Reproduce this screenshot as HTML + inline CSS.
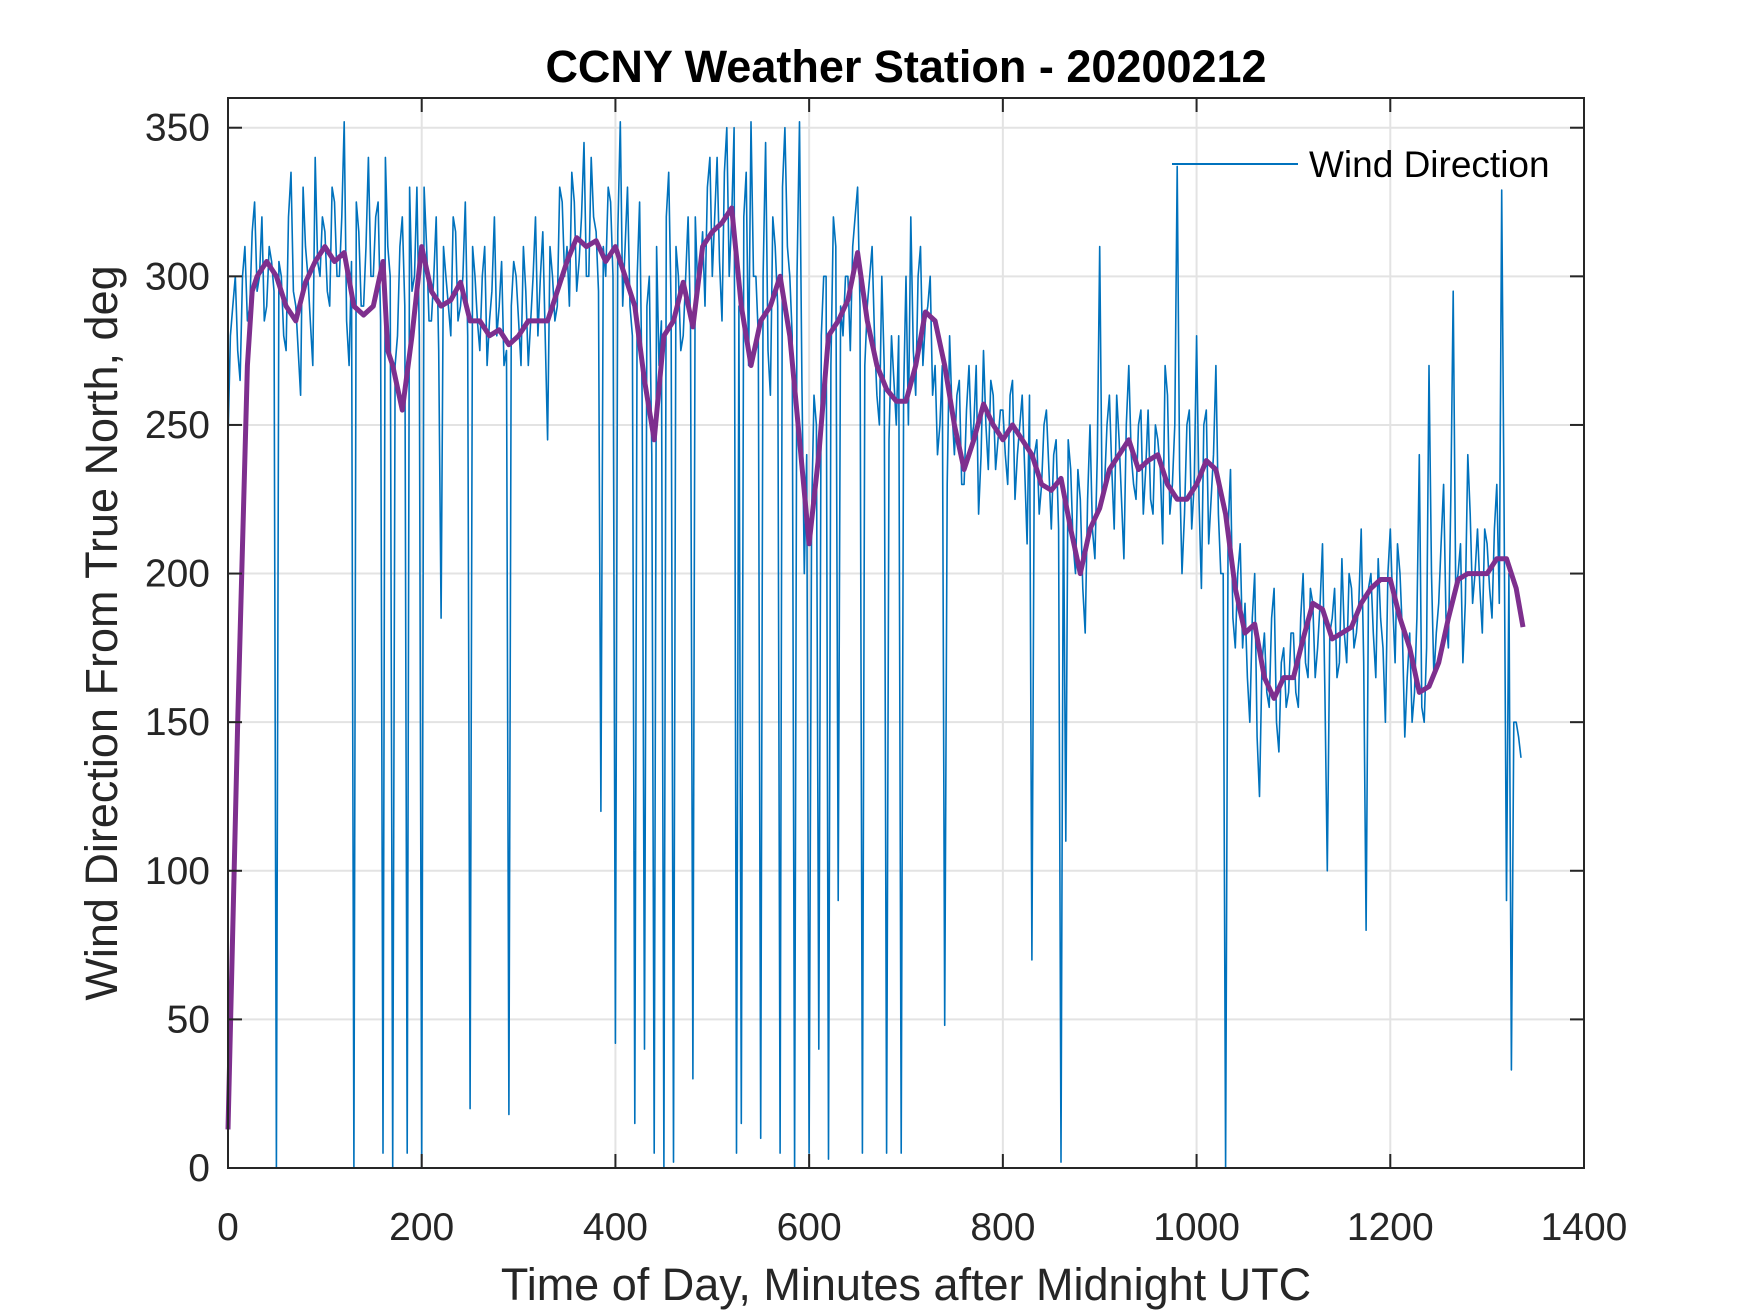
<!DOCTYPE html>
<html><head><meta charset="utf-8"><style>
html,body{margin:0;padding:0;background:#fff;}
svg{display:block;font-family:"Liberation Sans",Arial,sans-serif;}
</style></head><body>
<svg id="chart" width="1750" height="1313" viewBox="0 0 1750 1313">
<rect width="1750" height="1313" fill="#fff"/>
<g id="grid"></g>
<g id="series"></g>
<g id="axes"></g>
<text x="906" y="82" text-anchor="middle" font-size="45" font-weight="bold" fill="#000">CCNY Weather Station - 20200212</text>
<text x="906" y="1300" text-anchor="middle" font-size="45" fill="#262626">Time of Day, Minutes after Midnight UTC</text>
<text transform="translate(117,633) rotate(-90)" text-anchor="middle" font-size="45" fill="#262626">Wind Direction From True North, deg</text>
<g>
<line x1="1172" y1="164" x2="1298" y2="164" stroke="#0072BD" stroke-width="2"/>
<text x="1309" y="177" font-size="37" fill="#000">Wind Direction</text>
</g>
</svg>
<script>
const xTicks = [0,200,400,600,800,1000,1200,1400];
const yTicks = [0,50,100,150,200,250,300,350];
const windStep = 5;
const windDir = [
245,290,275,300,285,315,295,320,290,305,
0,300,275,335,290,260,310,285,340,300,
315,290,325,300,352,270,0,315,290,340,
300,325,5,310,0,280,320,5,295,330,
0,310,285,320,185,300,280,315,290,325,
20,300,275,310,285,320,290,270,18,305,
285,310,270,300,280,315,245,300,290,325,
310,335,295,320,300,340,315,120,300,325,
42,352,310,290,15,325,40,300,5,270,
0,335,2,300,280,320,30,295,315,330,
300,340,285,350,320,5,15,335,352,300,
10,345,260,310,5,350,300,0,352,200,
5,260,40,300,3,320,90,280,300,310,
330,5,290,310,260,300,5,280,250,5,
300,320,260,310,285,300,270,250,48,280,
240,265,230,270,250,220,275,235,260,245,
255,230,265,240,260,210,70,245,230,255,
215,245,2,110,235,200,225,180,250,205,
310,230,260,215,245,205,270,230,250,220,
255,220,245,210,260,230,337,200,250,215,
280,195,255,225,270,200,0,235,175,210,
190,150,200,125,180,155,195,140,175,160,
180,155,200,165,190,175,210,100,185,165,
205,170,195,180,215,80,200,165,185,150,
215,170,200,145,180,160,240,150,270,165,
190,230,175,295,200,170,240,190,215,180,
210,185,230,329,90,33,150,138
];
const windDirMid = [
280,300,265,310,290,325,300,285,310,295,
305,280,320,295,275,330,300,270,305,320,
295,330,300,320,285,305,325,290,310,300,
320,285,340,300,270,310,290,330,300,280,
330,285,300,275,310,290,320,285,300,280,
310,285,300,270,295,280,305,275,290,300,
270,295,285,320,300,280,310,285,330,300,
290,325,305,345,300,320,295,310,330,300,
315,290,330,280,300,260,290,240,310,285,
320,290,310,275,300,285,320,300,290,340,
320,305,335,300,350,290,320,270,300,280,
300,275,320,290,330,310,280,300,265,240,
220,250,280,300,270,310,290,300,275,320,
290,270,300,280,250,270,245,265,280,260,
250,275,300,270,290,260,240,270,230,255,
260,230,255,245,270,240,250,265,235,255,
240,260,225,250,235,260,240,220,250,235,
240,215,230,245,210,235,195,225,215,240,
225,250,235,260,225,250,240,225,255,235,
225,250,235,270,220,250,235,220,255,230,
225,250,210,240,220,200,215,185,200,175,
165,185,145,170,160,185,150,170,155,180,
160,185,170,195,165,190,160,180,195,170,
180,200,175,190,170,195,180,205,175,200,
190,210,180,165,150,185,155,175,200,180,
210,185,225,195,210,190,220,200,195,215,
195,215,190,220,200,150,145
];
const avgX = [0,10,20,25,30,40,50,60,70,80,90,100,110,120,130,140,150,160,165,170,180,190,200,210,220,230,240,250,260,270,280,290,300,310,320,330,340,350,360,370,380,390,400,410,420,430,440,450,460,470,480,490,500,510,520,530,540,550,560,570,580,590,600,610,620,630,640,650,660,670,680,690,700,710,720,730,740,750,760,770,780,790,800,810,820,830,840,850,860,870,880,890,900,910,920,930,940,950,960,970,980,990,1000,1010,1020,1030,1040,1050,1060,1070,1080,1090,1100,1110,1120,1130,1140,1150,1160,1170,1180,1190,1200,1210,1220,1230,1240,1250,1260,1270,1280,1290,1300,1310,1320,1330,1337];
const avgY = [13,150,270,295,300,305,300,290,285,298,305,310,305,308,290,287,290,305,275,270,255,280,310,295,290,292,298,285,285,280,282,277,280,285,285,285,295,305,313,310,312,305,310,300,290,265,245,280,285,298,283,310,315,318,323,290,270,285,290,300,280,245,210,240,280,285,292,308,285,270,262,258,258,270,288,285,270,250,235,245,257,250,245,250,245,240,230,228,232,215,200,215,222,235,240,245,235,238,240,230,225,225,230,238,235,220,195,180,183,165,158,165,165,178,190,188,178,180,182,190,195,198,198,185,175,160,162,170,185,198,200,200,200,205,205,195,182];

const L=228,R=1584,T=98,B=1168;
const xMax=1400,yMax=360;
function sx(v){return L+(v/xMax)*(R-L);}
function sy(v){return B-(v/yMax)*(B-T);}
const NS="http://www.w3.org/2000/svg";
function mk(tag,attrs,parent){const e=document.createElementNS(NS,tag);for(const k in attrs)e.setAttribute(k,attrs[k]);parent.appendChild(e);return e;}
const grid=document.getElementById('grid'),axes=document.getElementById('axes'),series=document.getElementById('series');
xTicks.forEach(t=>{
  const g=mk('line',{x1:sx(t),x2:sx(t),y1:T,y2:B,stroke:'#e3e3e3','stroke-width':2},grid);
  
  
  const a=mk('line',{x1:sx(t),x2:sx(t),y1:B,y2:B-14,stroke:'#262626','stroke-width':2},axes);
  
  
  const b=mk('line',{x1:sx(t),x2:sx(t),y1:T,y2:T+14,stroke:'#262626','stroke-width':2},axes);
  
  
  const tx=mk('text',{x:sx(t),y:1240,'text-anchor':'middle','font-size':39,fill:'#262626'},axes);
  tx.textContent=t;
  
  
});
yTicks.forEach(t=>{
  const g=mk('line',{x1:L,x2:R,y1:sy(t),y2:sy(t),stroke:'#e3e3e3','stroke-width':2},grid);
  
  
  const a=mk('line',{x1:L,x2:L+14,y1:sy(t),y2:sy(t),stroke:'#262626','stroke-width':2},axes);
  
  
  const b=mk('line',{x1:R,x2:R-14,y1:sy(t),y2:sy(t),stroke:'#262626','stroke-width':2},axes);
  
  
  const tx=mk('text',{x:210,y:sy(t)+13,'text-anchor':'end','font-size':39,fill:'#262626'},axes);
  tx.textContent=t;
  
  
});
const box=mk('rect',{x:L,y:T,width:R-L,height:B-T,fill:'none',stroke:'#262626','stroke-width':2},axes);


const pts=[];
windDir.forEach((v,i)=>{
  pts.push([i*windStep,v]);
  if(i<windDirMid.length) pts.push([i*windStep+windStep/2,windDirMid[i]]);
});
const wp=pts.map(p=>sx(p[0]).toFixed(1)+','+sy(p[1]).toFixed(1)).join(' ');
const wl=mk('polyline',{points:wp,fill:'none',stroke:'#0072BD','stroke-width':1.6,'stroke-linejoin':'round'},series);


const ap=avgY.map((v,i)=>sx(avgX[i]).toFixed(1)+','+sy(v).toFixed(1)).join(' ');
const al=mk('polyline',{points:ap,fill:'none',stroke:'#7E2F8E','stroke-width':5,'stroke-linejoin':'round'},series);


</script>
</body></html>
